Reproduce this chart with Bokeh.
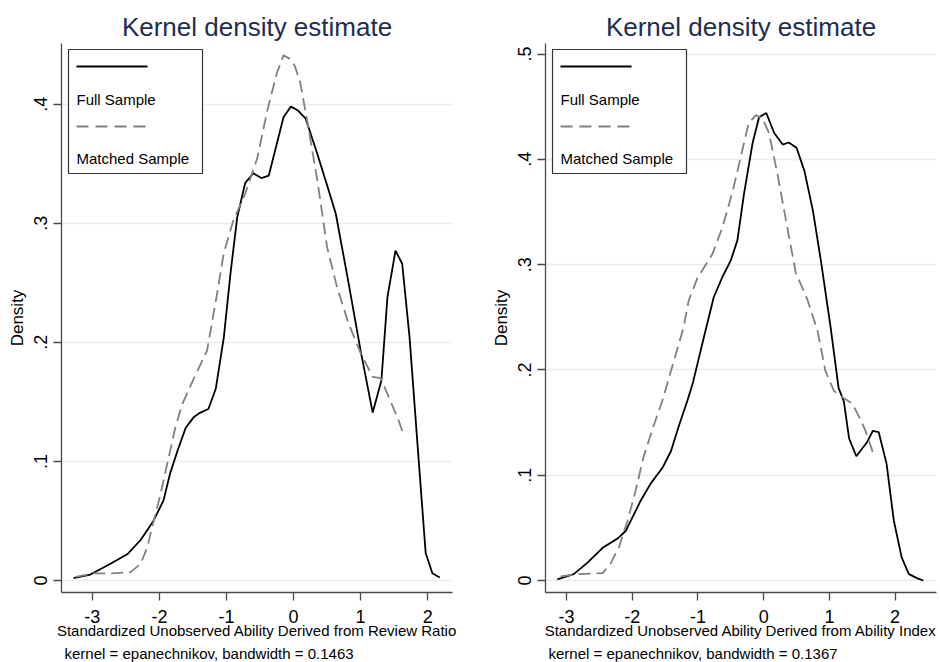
from bokeh.plotting import figure
from bokeh.layouts import row
from bokeh.models import FixedTicker, Range1d, BoxAnnotation, Label, Title
from bokeh.embed import file_html
from bokeh.resources import INLINE

FONT = "Liberation Sans"

# ---------------- data ----------------
# Left panel: Review Ratio
left_full_x = [-3.28, -3.03, -2.73, -2.48, -2.28, -2.09, -1.94, -1.84, -1.73, -1.61,
               -1.49, -1.39, -1.27, -1.16, -1.04, -0.94, -0.84, -0.72, -0.60, -0.48,
               -0.37, -0.15, -0.04, 0.06, 0.18, 0.35, 0.50, 0.63, 0.82, 1.00,
               1.18, 1.31, 1.40, 1.52, 1.62, 1.73, 1.85, 1.97, 2.07, 2.18]
left_full_y = [0.002, 0.005, 0.014, 0.022, 0.034, 0.050, 0.067, 0.090, 0.109, 0.128,
               0.137, 0.141, 0.144, 0.161, 0.204, 0.258, 0.305, 0.334, 0.342, 0.338,
               0.340, 0.389, 0.398, 0.395, 0.388, 0.359, 0.332, 0.308, 0.250, 0.193,
               0.141, 0.168, 0.238, 0.277, 0.266, 0.204, 0.113, 0.023, 0.006, 0.0025]

left_match_x = [-3.25, -2.98, -2.73, -2.43, -2.28, -2.18, -2.09, -1.99, -1.86, -1.76,
                -1.66, -1.50, -1.29, -1.14, -1.04, -0.90, -0.72, -0.54, -0.39, -0.25,
                -0.15, -0.05, 0.02, 0.10, 0.22, 0.36, 0.50, 0.65, 0.82, 1.00,
                1.18, 1.30, 1.42, 1.57, 1.63]
left_match_y = [0.003, 0.006, 0.006, 0.007, 0.014, 0.028, 0.049, 0.071, 0.104, 0.129,
                0.148, 0.168, 0.193, 0.241, 0.275, 0.302, 0.325, 0.355, 0.395, 0.426,
                0.441, 0.438, 0.432, 0.418, 0.381, 0.334, 0.280, 0.246, 0.216, 0.191,
                0.171, 0.170, 0.154, 0.134, 0.124]

# Right panel: Ability Index
right_full_x = [-3.14, -2.89, -2.68, -2.45, -2.22, -2.10, -1.98, -1.87, -1.72, -1.54,
                -1.41, -1.29, -1.16, -1.08, -0.91, -0.76, -0.63, -0.50, -0.40, -0.30,
                -0.17, -0.07, 0.04, 0.16, 0.29, 0.38, 0.50, 0.62, 0.75, 0.87,
                1.02, 1.14, 1.22, 1.30, 1.41, 1.57, 1.66, 1.75, 1.87, 1.98,
                2.10, 2.21, 2.34, 2.43]
right_full_y = [0.001, 0.006, 0.017, 0.031, 0.040, 0.047, 0.062, 0.076, 0.092, 0.107,
                0.123, 0.147, 0.171, 0.187, 0.231, 0.269, 0.288, 0.304, 0.323, 0.367,
                0.415, 0.440, 0.444, 0.425, 0.414, 0.416, 0.411, 0.389, 0.351, 0.304,
                0.240, 0.183, 0.170, 0.135, 0.118, 0.131, 0.142, 0.141, 0.111, 0.057,
                0.022, 0.006, 0.002, 0.000]

right_match_x = [-3.09, -2.83, -2.45, -2.33, -2.20, -2.07, -1.95, -1.83, -1.68, -1.54,
                 -1.42, -1.22, -1.14, -1.01, -0.78, -0.63, -0.47, -0.35, -0.23, -0.12,
                 -0.02, 0.08, 0.21, 0.36, 0.49, 0.67, 0.82, 0.94, 1.07, 1.22,
                 1.35, 1.48, 1.55, 1.66]
right_match_y = [0.004, 0.006, 0.007, 0.016, 0.032, 0.057, 0.085, 0.117, 0.146, 0.171,
                 0.197, 0.240, 0.266, 0.287, 0.310, 0.335, 0.370, 0.402, 0.434, 0.442,
                 0.439, 0.425, 0.386, 0.335, 0.292, 0.266, 0.237, 0.199, 0.180, 0.173,
                 0.168, 0.152, 0.142, 0.122]

x_ticks = [-3, -2, -1, 0, 1, 2]
x_tick_labels = {-3: "-3", -2: "-2", -1: "-1", 0: "0", 1: "1", 2: "2"}
left_y_ticks = [0, 0.1, 0.2, 0.3, 0.4]
right_y_ticks = [0, 0.1, 0.2, 0.3, 0.4, 0.5]
y_tick_labels = {0: "0", 0.1: ".1", 0.2: ".2", 0.3: ".3", 0.4: ".4", 0.5: ".5"}

title_text = "Kernel density estimate"
legend_labels = ["Full Sample", "Matched Sample"]
left_xlabel = "Standardized Unobserved Ability Derived from Review Ratio"
right_xlabel = "Standardized Unobserved Ability Derived from Ability Index"
left_note = "kernel = epanechnikov, bandwidth = 0.1463"
right_note = "kernel = epanechnikov, bandwidth = 0.1367"

# ---------------- styling ----------------
FRAME_W, FRAME_H = 391, 549
AXIS_COLOR = "#4a4a4a"
GRID_COLOR = "#e6eef0"
TITLE_COLOR = "#1f2d50"
MATCH_COLOR = "#808080"
TICK_FONT_SIZE = "18px"


def make_panel(fx, fy, mx, my, xr, yr, yticks, xlabel, note, bl, br):
    p = figure(frame_width=FRAME_W, frame_height=FRAME_H,
               min_border_left=bl, min_border_right=br,
               min_border_top=43, min_border_bottom=70,
               x_range=Range1d(*xr), y_range=Range1d(*yr),
               output_backend="svg", toolbar_location=None,
               background_fill_color="white", border_fill_color="white")
    p.outline_line_color = None

    p.title.text = title_text
    p.title.align = "center"
    p.title.text_font = FONT
    p.title.text_font_size = "26px"
    p.title.text_font_style = "normal"
    p.title.text_color = TITLE_COLOR
    p.title.standoff = 3

    # axes
    p.xaxis.axis_line_color = AXIS_COLOR
    p.yaxis.axis_line_color = AXIS_COLOR
    p.xaxis.axis_line_width = 1.3
    p.yaxis.axis_line_width = 1.3
    p.xaxis.major_tick_line_color = AXIS_COLOR
    p.yaxis.major_tick_line_color = AXIS_COLOR
    p.xaxis.major_tick_line_width = 1.3
    p.yaxis.major_tick_line_width = 1.3
    p.xaxis.major_tick_out = 8
    p.yaxis.major_tick_out = 8
    p.xaxis.major_tick_in = 0
    p.yaxis.major_tick_in = 0
    p.xaxis.minor_tick_line_color = None
    p.yaxis.minor_tick_line_color = None
    p.xaxis.major_label_text_font = FONT
    p.yaxis.major_label_text_font = FONT
    p.xaxis.major_label_text_font_size = TICK_FONT_SIZE
    p.yaxis.major_label_text_font_size = TICK_FONT_SIZE
    p.xaxis.major_label_text_color = "black"
    p.yaxis.major_label_text_color = "black"
    p.xaxis.axis_label_text_font = FONT
    p.yaxis.axis_label_text_font = FONT
    p.xaxis.axis_label_text_font_style = "normal"
    p.yaxis.axis_label_text_font_style = "normal"
    p.xaxis.axis_label_text_color = "black"
    p.yaxis.axis_label_text_color = "black"

    p.xaxis.ticker = FixedTicker(ticks=x_ticks)
    p.xaxis.major_label_overrides = dict(x_tick_labels)
    p.xaxis.major_label_standoff = 9
    p.xaxis.axis_label = xlabel
    p.xaxis.axis_label_text_font_size = "15px"
    p.xaxis.axis_label_standoff = -4

    p.yaxis.ticker = FixedTicker(ticks=yticks)
    p.yaxis.major_label_overrides = {t: y_tick_labels[t] for t in yticks}
    p.yaxis.major_label_orientation = "vertical"
    p.yaxis.major_label_standoff = 6
    p.yaxis.axis_label = "Density"
    p.yaxis.axis_label_text_font_size = "17px"
    p.yaxis.axis_label_standoff = 5

    p.xgrid.visible = False
    p.ygrid.grid_line_color = GRID_COLOR
    p.ygrid.grid_line_width = 1.3

    # curves
    p.line(fx, fy, line_color="black", line_width=1.8)
    p.line(mx, my, line_color=MATCH_COLOR, line_width=1.8, line_dash="12 6")

    # Stata-style legend box (key above label), placed by frame pixel offsets
    x0, x1 = xr
    y0, y1 = yr
    def dx(px):
        return x0 + px / FRAME_W * (x1 - x0)
    def dy(py):
        return y1 - py / FRAME_H * (y1 - y0)

    box = BoxAnnotation(left=dx(7), right=dx(141), top=dy(6), bottom=dy(130),
                        fill_color="white", fill_alpha=1.0,
                        line_color="#333333", line_width=1.2, line_alpha=1.0,
                        level="underlay")
    p.add_layout(box)
    p.line([dx(15), dx(86)], [dy(23), dy(23)], line_color="black", line_width=1.8)
    p.line([dx(15), dx(86)], [dy(83), dy(83)], line_color=MATCH_COLOR,
           line_width=1.8, line_dash="12 7")
    for txt, py in zip(legend_labels, (56, 115)):
        p.add_layout(Label(x=dx(15), y=dy(py), text=txt, text_font=FONT,
                           text_font_size="15px", text_baseline="middle",
                           text_align="left", text_color="black"))

    nt = Title(text=note, align="left", text_font=FONT, text_font_size="15px",
               text_font_style="normal", text_color="black", offset=3, standoff=3)
    p.add_layout(nt, "below")
    return p


p1 = make_panel(left_full_x, left_full_y, left_match_x, left_match_y,
                (-3.46, 2.37), (-0.0101, 0.451), left_y_ticks,
                left_xlabel, left_note, 61, 18)
p2 = make_panel(right_full_x, right_full_y, right_match_x, right_match_y,
                (-3.32, 2.63), (-0.0114, 0.51), right_y_ticks,
                right_xlabel, right_note, 75, 4)

layout = row(p1, p2)
open("out.html", "w").write(file_html(layout, INLINE))
